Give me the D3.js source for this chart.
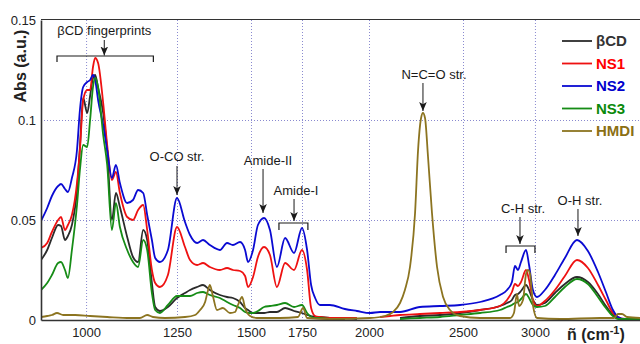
<!DOCTYPE html>
<html><head><meta charset="utf-8">
<script src="https://cdn.jsdelivr.net/npm/d3@7"></script>
<style>body{margin:0;background:#fff}svg{display:block;font-family:Arial,"Liberation Sans",sans-serif}</style>
</head><body><svg id="c" width="640" height="344"></svg>
<script>
// ---------- data ----------
const seriesNames = ["βCD","NS1","NS2","NS3","HMDI"];
const seriesColors = ["#2b2b2b","#ee1111","#0a0ad2","#168c16","#8c7420"];
const legendTextColors = ["#333333","#ff0000","#0000cc","#0a8a0a","#8b6f14"];
const xTicks = [1000,1250,1500,1750,2000,2500,3000];
const yTicks = [0,0.05,0.1,0.15];
const yTickLabels = ["0","0.05","0.1","0.15"];
const xBreaks = [876,1250,1500,1750,2000,2500,3730];

const wavenumbers = [876,893,906,923,931,942,950,961,975,983,992,1003,1011,1019,1025,1033,1047,1058,1071,1082,1093,1113,1129,1143,1157,1168,1181,1190,1203,1225,1250,1277,1294,1318,1338,1361,1395,1419,1439,1463,1480,1490,1510,1534,1564,1593,1627,1667,1711,1750,1769,1784,1799,1817,1854,1910,1955,2005,2059,2112,2165,2271,2378,2484,2618,2757,2806,2840,2861,2882,2903,2938,2959,2986,3014,3069,3139,3208,3292,3368,3438,3493,3542,3577,3626,3730];

const absBCD = [0.03,0.035,0.041,0.0475,0.047,0.04,0.042,0.0475,0.065,0.0865,
 0.111,0.1035,0.112,0.121,0.1225,0.116,0.1035,0.085,0.05,0.0635,
 0.0565,0.0415,0.0315,0.029,0.045,0.04,0.0185,0.0065,0.0045,0.0065,
 0.011,0.0135,0.015,0.0165,0.0175,0.015,0.0125,0.0115,0.011,0.009,
 0.006,0.005,0.0035,0.0035,0.0035,0.004,0.004,0.006,0.0045,0.0035,
 0.0025,0.002,0.0015,0.0015,0.001,0.001,0.0005,null,null,null,
 0.001,0.002,0.0025,0.0035,0.005,0.007,0.0085,0.01,0.0125,0.013,
 0.0145,0.0175,0.015,0.01,0.0075,0.0085,0.0135,0.018,0.0215,0.019,
 0.013,0.007,0.0025,0.001,0.0005,0.0005];

const absNS1 = [0.036,0.0385,0.044,0.05,0.0515,0.045,0.0475,0.0525,0.0685,0.085,
 0.11,0.115,0.115,0.1265,0.131,0.1285,0.1085,0.0875,0.07,0.074,
 0.0635,0.0515,0.05,0.055,0.0575,0.045,0.025,0.0185,0.0165,0.0225,
 0.0465,0.0365,0.03,0.0275,0.0285,0.0265,0.025,0.026,0.025,0.0245,
 0.022,0.0165,0.0215,0.0315,0.0365,0.0325,0.0165,0.0285,0.025,0.035,
 0.025,0.006,0.002,0.0015,0.001,0.001,0.001,null,0.0015,0.002,
 0.0025,0.003,0.0035,0.004,0.005,0.007,0.01,0.014,0.018,0.017,
 0.019,0.025,0.02,0.01,0.007,0.0095,0.015,0.022,0.03,0.026,
 0.0175,0.01,0.0035,0.0015,0.0005,0.0005];

const absNS2 = [0.0495,0.056,0.062,0.067,0.068,0.0655,0.064,0.071,0.085,0.105,
 0.1165,0.119,0.12,0.1225,0.12,0.11,0.0975,0.085,0.071,0.0775,
 0.0685,0.0585,0.06,0.065,0.0635,0.0525,0.04,0.031,0.029,0.035,
 0.061,0.049,0.0425,0.0385,0.04,0.0375,0.035,0.0385,0.0375,0.039,
 0.035,0.029,0.035,0.0475,0.051,0.045,0.0265,0.041,0.0335,0.046,
 0.035,0.0175,0.011,0.0075,0.0075,0.0055,0.0045,0.0035,0.004,0.004,
 0.004,0.0065,0.007,0.0075,0.009,0.0125,0.015,0.019,0.027,0.025,
 0.029,0.035,0.0275,0.015,0.0115,0.015,0.0225,0.031,0.04,0.0345,
 0.024,0.014,0.005,0.0015,0.0005,0.0005];

const absNS3 = [0.015,0.0185,0.0225,0.0285,0.029,0.025,0.021,0.035,0.0575,0.075,
 0.0875,0.0865,0.1,0.1165,0.121,0.1165,0.0925,0.0775,0.045,0.0585,
 0.0465,0.035,0.029,0.0265,0.04,0.035,0.0135,0.005,0.0035,0.0075,
 0.012,0.012,0.012,0.0135,0.014,0.0125,0.011,0.009,0.0075,0.006,
 0.004,0.0035,0.0035,0.0045,0.0065,0.007,0.0075,0.0085,0.0065,0.0075,
 0.0035,0.0015,0.001,0.001,0.0005,0.0005,null,null,null,null,
 0.0005,0.001,0.0015,0.0025,0.0035,0.005,0.0065,0.0075,0.0085,0.009,
 0.0105,0.013,0.011,0.0075,0.0065,0.007,0.0115,0.0165,0.0205,0.018,
 0.0115,0.006,0.002,0.0005,0.0005,0.0005];

const hmdiWavenumbers = [876,893,906,920,937,970,1011,1058,1121,1148,1168,1184,1217,1277,1311,1328,1345,1355,1361,1372,1385,1405,1429,1446,1456,1470,1480,1497,1529,1642,1730,1754,1769,1854,2005,2085,2128,2165,2191,2218,2245,2261,2277,2287,2298,2314,2335,2362,2394,2431,2484,2618,2827,2854,2875,2889,2917,2938,2952,2966,2986,3014,3174,3452,3549,3577,3605,3640,3730];
const absHMDI = [0.0015,0.002,0.0025,0.0035,0.0025,0.0025,0.002,0.0015,0.001,0.001,
 0.0025,0.0015,0.001,0.0015,0.0025,0.005,0.009,0.015,0.0175,0.0115,
 0.005,0.006,0.0035,0.004,0.0075,0.0115,0.006,0.002,0.001,0.001,
 0.0015,0.006,0.001,0.0005,0.001,0.002,0.004,0.0085,0.015,0.0265,
 0.0535,0.085,0.101,0.1035,0.101,0.0815,0.0535,0.0265,0.0115,0.005,
 0.002,0.001,0.001,0.0035,0.013,0.007,0.01,0.023,0.025,0.023,
 0.0075,0.001,0.0005,0.001,0.001,0.003,0.003,0.0015,0.001];

// annotations: label, arrow wavenumber
const annotations = [
  {text:"O-CO str.", wn:1250, tx:177, ty:161, y1:166, y2:195},
  {text:"Amide-II", wn:1559, tx:268, ty:165, y1:169, y2:213},
  {text:"Amide-I", wn:1711, tx:296, ty:195, y1:199, y2:221},
  {text:"N=C=O str.", wn:2287, tx:434, ty:79, y1:83, y2:111},
  {text:"C-H str.", wn:2896, tx:523, ty:213, y1:217, y2:244},
  {text:"O-H str.", wn:3299, tx:580, ty:205, y1:209, y2:236}
];
const brackets = [
  {from:920, to:1185, y:56, d:6},
  {from:1637, to:1772, y:223, d:7},
  {from:2799, to:3000, y:246, d:7}
];

// ---------- chart ----------
const L = 41, R = 640, T = 20, B = 320;
const svg = d3.select("#c");
const x = d3.scaleLinear().domain(xBreaks).range([L,177,251,302,369,463,R]);
const y = d3.scaleLinear().domain([0,0.15]).range([B,T]);

// grid
const grid = svg.append("g").attr("stroke","#8a8ad0").attr("stroke-width",1).attr("stroke-dasharray","1,2");
grid.selectAll("line.v").data(xTicks).join("line")
  .attr("x1",d=>x(d)+0.5).attr("x2",d=>x(d)+0.5).attr("y1",T).attr("y2",B);
grid.selectAll("line.h").data([0.05,0.1]).join("line")
  .attr("x1",L).attr("x2",R).attr("y1",d=>Math.round(y(d))+0.5).attr("y2",d=>Math.round(y(d))+0.5);

// top border
svg.append("line").attr("x1",L).attr("x2",R).attr("y1",T-0.5).attr("y2",T-0.5).attr("stroke","#333").attr("stroke-width",1);

// curves
svg.append("clipPath").attr("id","clip").append("rect").attr("x",L).attr("y",T).attr("width",R-L).attr("height",B-T);
const line = d3.line().defined(d=>d[1]!==null).x(d=>x(d[0])).y(d=>y(d[1])).curve(d3.curveMonotoneX);
const mainSeries = [absBCD,absNS1,absNS2,absNS3];
const curves = svg.append("g").attr("clip-path","url(#clip)").attr("fill","none").attr("stroke-width",1.8).attr("stroke-linejoin","round");
mainSeries.forEach((vals,i)=>{
  curves.append("path").datum(wavenumbers.map((w,j)=>[w,vals[j]]))
    .attr("stroke",seriesColors[i]).attr("d",line);
});
curves.append("path").datum(hmdiWavenumbers.map((w,j)=>[w,absHMDI[j]]))
  .attr("stroke",seriesColors[4]).attr("d",line);

// axes
const yAxis = d3.axisLeft(y).tickValues(yTicks).tickFormat((d,i)=>yTickLabels[i]).tickSize(0).tickPadding(5);
const gy = svg.append("g").attr("transform",`translate(${L},0)`).call(yAxis);
gy.attr("font-size",13).attr("font-family","Arial,'Liberation Sans',sans-serif");
gy.select(".domain").attr("stroke","#333").attr("stroke-width",1.6);
gy.selectAll("text").attr("fill","#222");

const xAxis = d3.axisBottom(x).tickValues(xTicks).tickFormat(d3.format("d")).tickSize(0).tickPadding(8);
const gx = svg.append("g").attr("transform",`translate(0,${B})`).call(xAxis);
gx.attr("font-size",13).attr("font-family","Arial,'Liberation Sans',sans-serif");
gx.select(".domain").attr("stroke","#333").attr("stroke-width",1.6);
gx.selectAll("text").attr("fill","#222");

// axis titles
svg.append("text").attr("transform","translate(26,66) rotate(-90)").attr("text-anchor","middle")
  .attr("font-size",16).attr("font-weight","bold").attr("fill","#222").text("Abs (a.u.)");
const xt = svg.append("text").attr("x",567).attr("y",340).attr("font-size",16).attr("font-weight","bold").attr("fill","#222");
xt.append("tspan").text("ñ (cm");
xt.append("tspan").attr("dy",-6).attr("font-size",11).text("-1");
xt.append("tspan").attr("dy",6).text(")");

// legend
const lg = svg.append("g");
seriesNames.forEach((n,i)=>{
  const yy = 41 + i*22.5;
  lg.append("line").attr("x1",562).attr("x2",592).attr("y1",yy).attr("y2",yy).attr("stroke",seriesColors[i]).attr("stroke-width",1.8);
  lg.append("text").attr("x",596).attr("y",yy).attr("dy","0.36em").attr("font-size",15).attr("font-weight","bold")
    .attr("fill",legendTextColors[i]).text(n);
});

// arrow marker
svg.append("defs").append("marker").attr("id","ah").attr("markerUnits","userSpaceOnUse")
  .attr("viewBox","0 -4 9 8").attr("refX",9).attr("refY",0).attr("markerWidth",9).attr("markerHeight",8).attr("orient","auto")
  .append("path").attr("d","M0,-3.8L9,0L0,3.8L2.2,0Z").attr("fill","#1a1a1a");

const ann = svg.append("g").attr("font-size",13).attr("fill","#1a1a1a");
// fingerprint label
ann.append("text").attr("x",x(1050)).attr("y",35).attr("text-anchor","middle").text("βCD fingerprints");
ann.append("line").attr("x1",x(1050)).attr("x2",x(1050)).attr("y1",40).attr("y2",55.5).attr("stroke","#1a1a1a").attr("stroke-width",1).attr("marker-end","url(#ah)");
annotations.forEach(a=>{
  ann.append("text").attr("x",a.tx).attr("y",a.ty).attr("text-anchor","middle").text(a.text);
  ann.append("line").attr("x1",x(a.wn)).attr("x2",x(a.wn)).attr("y1",a.y1).attr("y2",a.y2)
    .attr("stroke","#1a1a1a").attr("stroke-width",1).attr("marker-end","url(#ah)");
});
brackets.forEach(b=>{
  const x1 = x(b.from), x2 = x(b.to);
  ann.append("path").attr("d",`M${x1},${b.y+b.d}V${b.y}H${x2}V${b.y+b.d}`)
    .attr("fill","none").attr("stroke","#1a1a1a").attr("stroke-width",1.2);
});
</script></body></html>
